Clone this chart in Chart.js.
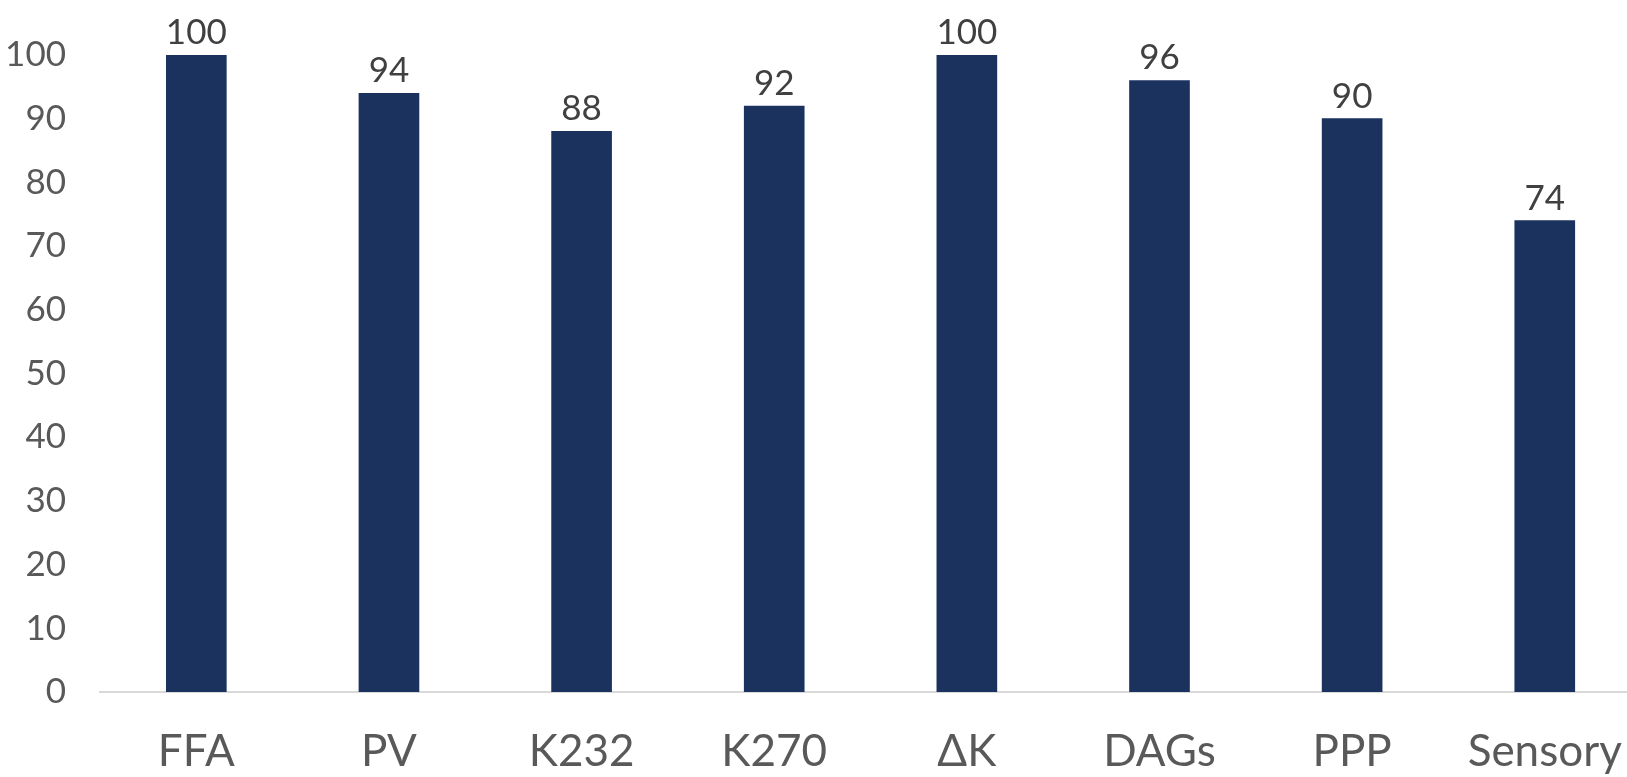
<!DOCTYPE html>
<html>
<head>
<meta charset="utf-8">
<script src="https://cdn.jsdelivr.net/npm/chart.js@4"></script>
<style>
  html, body { margin: 0; padding: 0; background: #fff; overflow: hidden; }
  #caja { position: relative; width: 1655px; height: 777px; }
</style>
</head>
<body>
<div id="caja"><canvas id="myChart"></canvas></div>
<script>
// categorias y valores (%)
const categorias = ["FFA", "PV", "K232", "K270", "\u0394K", "DAGs", "PPP", "Sensory"]
const valores = [100, 94, 88, 92, 100, 96, 90, 74]
const ticksY = [0, 10, 20, 30, 40, 50, 60, 70, 80, 90, 100]

const fuente = "Lato, 'Open Sans', sans-serif"

// escribe el valor encima de cada barra
const etiquetas = {
    id: 'etiquetas',
    afterDatasetsDraw(chart) {
        const ctx = chart.ctx
        const meta = chart.getDatasetMeta(0)
        ctx.save()
        ctx.font = "35px " + fuente
        ctx.fillStyle = "#404040"
        ctx.textAlign = "center"
        ctx.textBaseline = "alphabetic"
        meta.data.forEach((barra, i) => {
            ctx.fillText(valores[i], barra.x, barra.y - 11)
        })
        ctx.restore()
    }
}

const ctx = document.getElementById('myChart')

new Chart(ctx, {
    type: 'bar',
    data: {
        labels: categorias,
        datasets: [{
            data: valores,
            backgroundColor: "#1B325F",
            borderWidth: 0,
            barThickness: 60
        }]
    },
    options: {
        responsive: true,
        maintainAspectRatio: false,
        animation: false,
        layout: { padding: { top: 52, right: 2, left: 0, bottom: 0 } },
        plugins: {
            legend: { display: false },
            tooltip: { enabled: false }
        },
        scales: {
            x: {
                grid: { display: false, drawTicks: false },
                border: { display: true, color: "#D9D9D9", width: 2 },
                ticks: {
                    color: "#595959",
                    font: { family: fuente, size: 44 },
                    padding: 33,
                    maxRotation: 0,
                    autoSkip: false
                },
                afterFit: (escala) => { escala.height = 85 }
            },
            y: {
                min: 0,
                max: 100,
                grid: { display: false, drawTicks: false },
                border: { display: false },
                afterBuildTicks: (escala) => {
                    escala.ticks = ticksY.map(v => ({ value: v }))
                },
                ticks: {
                    color: "#595959",
                    font: { family: fuente, size: 35 },
                    padding: 34
                },
                afterFit: (escala) => { escala.width = 100 }
            }
        }
    },
    plugins: [etiquetas]
})
</script>
</body>
</html>
